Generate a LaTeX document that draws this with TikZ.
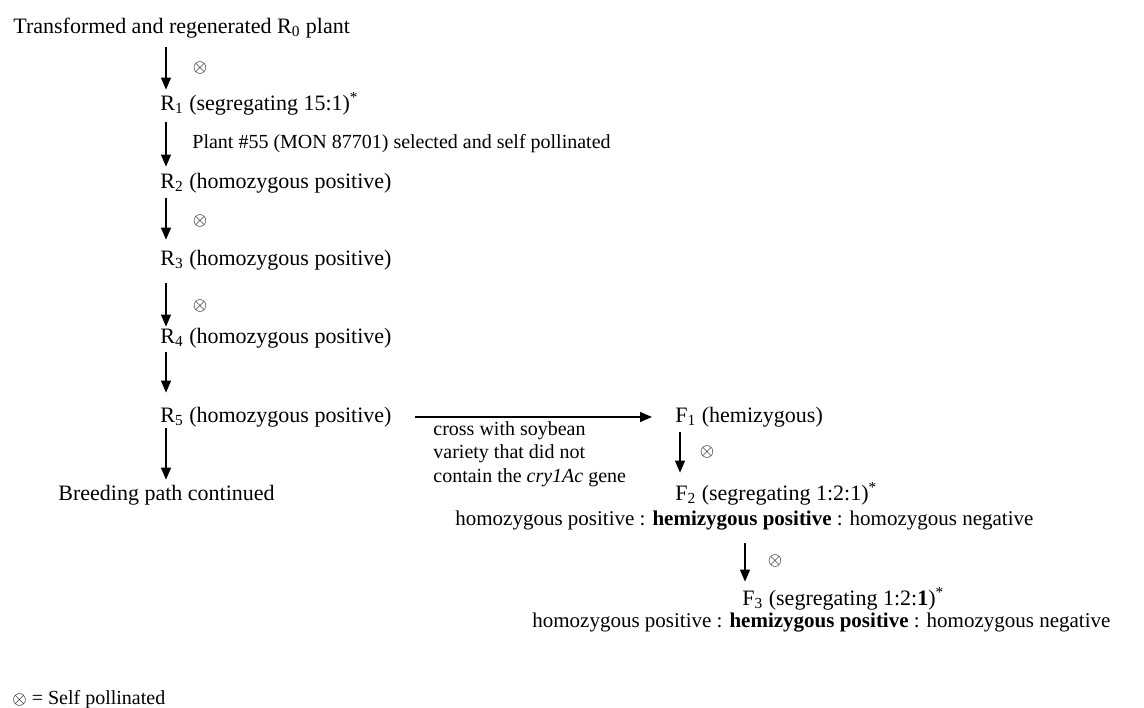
\documentclass[tikz,border=0pt]{standalone}
\usepackage{fontspec}
\setmainfont{Liberation Serif}
\usetikzlibrary{arrows.meta,calc}
\newcommand\lsub[1]{\textsubscript{#1}}
\newcommand\selfsym{{\fontsize{9.5}{9.5}\selectfont$\otimes$}}
\begin{document}
\begin{tikzpicture}[x=0.5pt,y=0.5pt,
  lab/.style={anchor=west,inner sep=0pt,font=\fontsize{11}{13}\selectfont,text height=7.5pt,text depth=2.5pt},
  note/.style={anchor=west,inner sep=0pt,font=\fontsize{10}{12}\selectfont,text height=7pt,text depth=2.5pt},
  seg/.style={anchor=west,inner sep=0pt,font=\fontsize{10.5}{12}\selectfont,text height=7.5pt,text depth=2.5pt},
  selfmark/.style={inner sep=0pt},
  arr/.style={-{Triangle[length=6pt,width=5pt]},line width=0.65pt}]
\useasboundingbox (0,0) rectangle (1144,-707);
\coordinate (sp) at (166,0);
\coordinate (fp1) at (680,0);
\coordinate (fp2) at (745,0);
% main chain
\node[lab] (r0) at (13,-28) {Transformed and regenerated R\lsub{0} plant};
\node[lab] (r1) at (160,-105) {R\lsub{1} (segregating 15:1)\textsuperscript{*}};
\node[note] (n55) at (192,-144) {Plant \#55 (MON 87701) selected and self pollinated};
\node[lab] (r2) at (160,-183) {R\lsub{2} (homozygous positive)};
\node[lab] (r3) at (160,-260) {R\lsub{3} (homozygous positive)};
\node[lab] (r4) at (160,-338) {R\lsub{4} (homozygous positive)};
\node[lab] (r5) at (160,-417) {R\lsub{5} (homozygous positive)};
\node[lab] (breed) at (58,-495) {Breeding path continued};
% self marks
\node[selfmark] (s1) at (200,-68) {\selfsym};
\node[selfmark] (s3) at (200,-221) {\selfsym};
\node[selfmark] (s4) at (200,-306) {\selfsym};
% spine arrows
\draw[arr] ($(r0.south -| sp)+(0,-9)$) -- ($(r1.north -| sp)+(0,5)$);
\draw[arr] ($(r1.south -| sp)+(0,-7)$) -- ($(r2.north -| sp)+(0,6)$);
\draw[arr] ($(r2.south -| sp)+(0,-5)$) -- ($(r3.north -| sp)+(0,10)$);
\draw[arr] ($(r3.south -| sp)+(0,-13)$) -- ($(r4.north -| sp)+(0,1)$);
\draw[arr] ($(r4.south -| sp)+(0,-4)$) -- ($(r5.north -| sp)+(0,14)$);
\draw[arr] ($(r5.south -| sp)+(0,-1)$) -- ($(breed.north -| sp)+(0,5)$);
% cross branch
\node[lab] (f1) at (675,-417) {F\lsub{1} (hemizygous)};
\draw[arr] ($(r5.east)+(23,0)$) -- ($(f1.west)+(-23,0)$);
\node[anchor=north west,inner sep=0pt,align=left,font=\fontsize{10}{11.75}\selectfont] (cross) at (433,-421)
  {cross with soybean\\variety that did not\\contain the \textit{cry1Ac} gene};
\node[selfmark] (s5) at (707,-452) {\selfsym};
\node[lab] (f2) at (675,-495) {F\lsub{2} (segregating 1:2:1)\textsuperscript{*}};
\draw[arr] ($(f1.south -| fp1)+(0,-5)$) -- ($(f2.north -| fp1)+(0,12)$);
\node[seg] (f2b) at (455,-520) {homozygous positive : \textbf{hemizygous positive} : homozygous negative};
\node[selfmark] (s6) at (775,-561) {\selfsym};
\node[lab] (f3) at (742,-600) {F\lsub{3} (segregating 1:2:\textbf{1})\textsuperscript{*}};
\draw[arr] ($(f2b.south -| fp2)+(0,-13)$) -- ($(f3.north -| fp2)+(0,8)$);
\node[seg] (f3b) at (532,-622) {homozygous positive : \textbf{hemizygous positive} : homozygous negative};
% legend
\node[note] (legend) at (12,-700) {\selfsym{} = Self pollinated};
\end{tikzpicture}
\end{document}
